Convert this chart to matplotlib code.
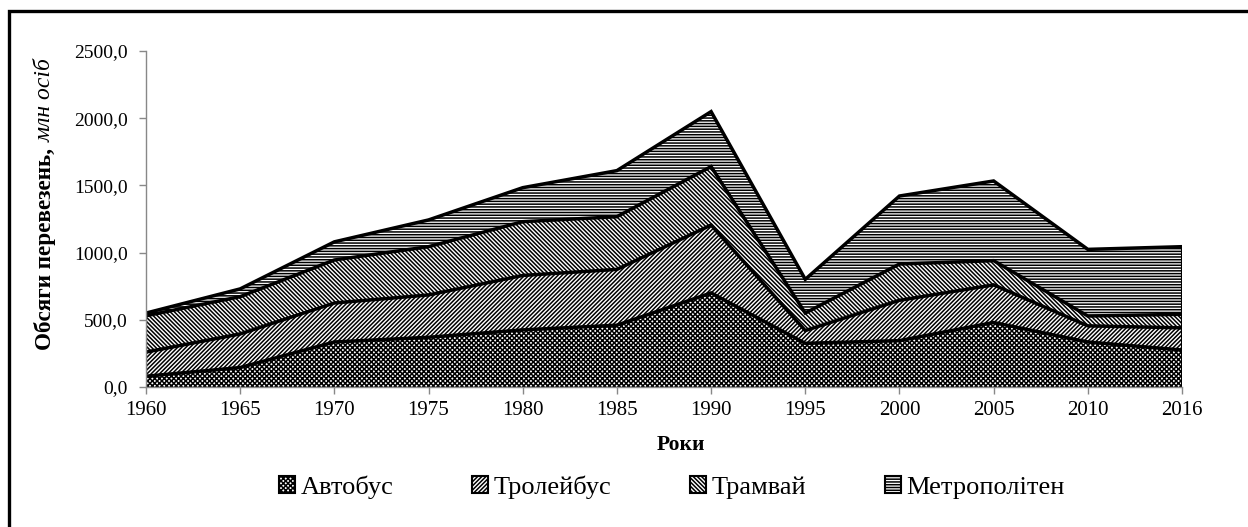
import matplotlib
matplotlib.use("Agg")
import matplotlib.pyplot as plt
import matplotlib.patches as mpatches
import numpy as np

# Values (million passengers)
years = ["1960", "1965", "1970", "1975", "1980", "1985", "1990", "1995", "2000", "2005", "2010", "2016"]
bus = [80, 145, 335, 370, 425, 460, 700, 325, 345, 480, 335, 275]
trolleybus = [180, 250, 290, 315, 405, 415, 505, 95, 300, 280, 120, 165]
tram = [270, 277, 320, 359, 400, 392, 435, 130, 270, 180, 73, 101]
metro = [20, 58, 135, 199, 253, 343, 409, 251, 506, 593, 496, 503]

labels = ["Автобус", "Тролейбус", "Трамвай", "Метрополітен"]
hatches = ["xxxxxxx", "////////", "\\\\\\\\\\\\\\\\", "------"]

plt.rcParams["font.family"] = "Liberation Serif"
plt.rcParams["hatch.linewidth"] = 1.1

W, H = 1248, 527
fig = plt.figure(figsize=(W / 100, H / 100), dpi=100)
ax = fig.add_axes([146 / W, 1 - 387 / H, (1182 - 146) / W, 336 / H])

x = np.arange(len(years))
layers = np.array([bus, trolleybus, tram, metro], dtype=float)
tops = np.cumsum(layers, axis=0)
bottom = np.zeros(len(years))
for i in range(len(layers)):
    ax.fill_between(x, bottom, tops[i], facecolor="white", edgecolor="black",
                    hatch=hatches[i], linewidth=0)
    bottom = tops[i]
for i in range(len(layers)):
    ax.plot(x, tops[i], color="black", lw=2.5, solid_joinstyle="miter")
ax.plot([x[-1], x[-1]], [0, tops[-1][-1]], color="black", lw=1.5)
ax.plot([x[0], x[0]], [0, tops[-1][0]], color="black", lw=1.5)

ax.set_xlim(0, len(years) - 1)
ax.set_ylim(0, 2500)
ax.set_xticks(x)
ax.set_xticklabels(years, fontsize=15)
ax.set_yticks(np.arange(0, 2501, 500))
ax.set_yticklabels([f"{v:.1f}".replace(".", ",") for v in np.arange(0, 2501, 500)], fontsize=14)
for s in ["top", "right"]:
    ax.spines[s].set_visible(False)
for s in ["left", "bottom"]:
    ax.spines[s].set_color("#888888")
    ax.spines[s].set_linewidth(1.0)
ax.tick_params(axis="x", direction="out", length=5, width=1, color="#888888", pad=5)
ax.tick_params(axis="y", direction="out", length=5, width=1, color="#888888", pad=8)

# axis titles
fig.text(681 / W, 1 - 445 / H, "Роки", fontsize=15.5, fontweight="bold", ha="center", va="center")
fig.text(45 / W, 1 - 350 / H, "Обсяги перевезень,", fontsize=16.7, fontweight="bold",
         rotation=90, ha="center", va="bottom")
fig.text(45 / W, 1 - 142 / H, "млн осіб", fontsize=17, fontstyle="italic",
         rotation=90, ha="center", va="bottom")

# legend
handles = [mpatches.Patch(facecolor="white", edgecolor="black", hatch=h, lw=1.5) for h in hatches]
fig.legend(handles, labels, loc="center", bbox_to_anchor=(672 / W, 1 - 487 / H), ncol=4,
           frameon=False, fontsize=19, handlelength=0.6, handleheight=0.6,
           handletextpad=0.2, columnspacing=3.0)

# outer frame
frame = mpatches.Rectangle((9 / W, -0.1), 2, (527 - 11) / H + 0.1, transform=fig.transFigure,
                           fill=False, edgecolor="black", lw=2.4, clip_on=False)
fig.patches.append(frame)

fig.savefig("out.png", dpi=100)
